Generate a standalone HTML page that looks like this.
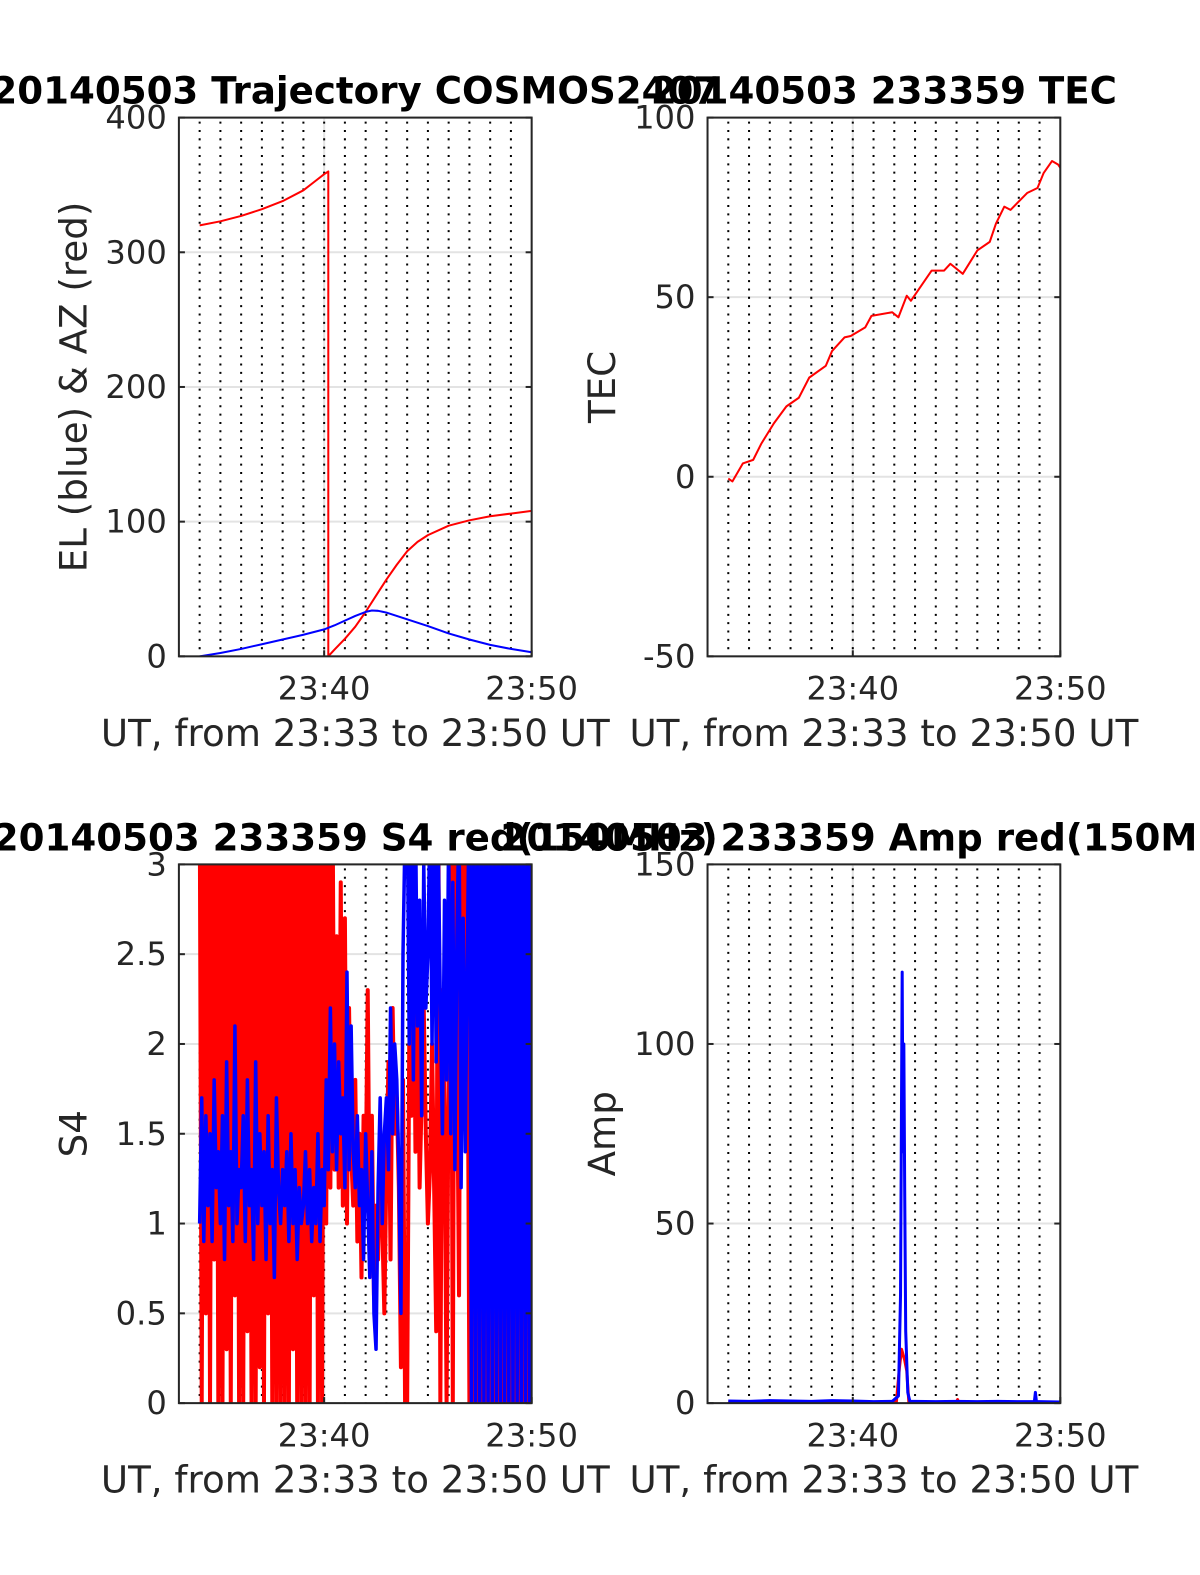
<!DOCTYPE html>
<html><head><meta charset="utf-8"><style>
html,body{margin:0;padding:0;background:#fff;overflow:hidden;width:1200px;height:1575px}
svg{display:block;font-family:"DejaVu Sans","Liberation Sans",sans-serif}
</style></head><body>
<svg id="fig" width="1200" height="1575" viewBox="0 0 1194 1567" preserveAspectRatio="none" xmlns="http://www.w3.org/2000/svg"></svg>
<script>
// ---- data ----
const azTime=[34.0,35,36,37,38,39,39.5,40.0,40.2,40.2,40.5,41,41.5,42,42.5,43,43.5,44,44.5,45,46,47,48,49,50];
const azVal=[320,323,327,332,338,346,352,358,360,0,5,13,22,33,45,57,68,78,85,90,97,101,104,106,108];
const elTime=[34,35,36,37,38,39,40,40.5,41,41.5,42,42.3,42.6,43,43.5,44,45,46,47,48,49,50];
const elVal=[0,2.5,5.5,9,12.5,16,20,23,26.5,30,33,34,33.8,32.5,30,27.5,22.5,17,12.5,8.5,5.5,3];
const tecTime=[34.0,34.2,34.7,35.2,35.6,36.2,36.8,37.4,37.9,38.7,39.0,39.6,39.9,40.6,40.9,41.9,42.2,42.6,42.8,43.3,43.8,44.4,44.7,45.3,46.0,46.6,46.9,47.3,47.6,48.4,48.9,49.2,49.6,49.9,50];
const tecVal=[-0.5,-1.3,3.7,4.7,9.3,14.9,19.6,22,27.6,30.9,35,38.8,39.2,41.6,44.8,45.8,44.4,50.4,49,53.2,57.4,57.4,59.3,56.5,63,65.4,70.5,75.2,74.3,79,80.4,84.6,87.9,86.9,86];
const s4Start=34.0, s4Step=0.1;
const s4Red=[3.5,0,3.5,0.5,3.5,0,3.5,0.8,3.5,0,
3.5,0,3.5,0.3,3.5,0,3.5,0.6,3.5,0,
3.5,0,3.5,0.4,3.5,0,3.5,0,3.5,0.2,
3.5,0,3.5,0.5,3.5,0,3.5,0,3.5,0,
3.5,0,3.5,0,3.5,0.3,3.5,0,3.5,0,
3.5,0,3.5,0,3.5,0.6,3.5,0,3.5,0,
3.5,1.0,3.5,1.2,3.5,1.3,2.6,1.2,2.9,1.1,
2.7,1.0,2.2,1.4,1.1,1.8,0.9,1.5,0.7,1.6,
1.2,2.3,0.9,1.6,0.6,1.1,0.8,1.4,1.0,0.5,
1.3,1.9,0.8,2.2,1.5,1.7,1.2,0.2,1.8,0,
0,2.0,1.6,2.8,1.4,2.5,1.2,1.7,2.2,1.5,
1.0,1.3,2.0,1.2,0.4,3.5,0,2.3,1.6,0,
1.9,3.5,0,3.5,2.0,0.6,3.5,1.7,3.5,2.6,
0,3.5,0,3.5,0,3.5,0,3.5,0,3.5,
0,3.5,0,3.5,0,3.5,0,3.5,0,3.5,
0,3.5,0,3.5,0,3.5,0,3.5,0,3.5,0];
const s4Blue=[1.0,1.7,0.9,1.6,1.1,1.5,0.9,1.8,1.2,1.4,
1.0,1.6,0.8,1.9,1.1,1.4,0.9,2.1,1.0,1.3,
1.2,1.6,0.9,1.8,1.1,1.3,0.8,1.9,1.0,1.5,
1.1,1.4,0.8,1.6,1.0,1.3,0.7,1.7,1.2,1.0,
1.3,1.1,1.4,0.9,1.5,1.0,1.3,0.8,1.2,1.0,
1.1,1.4,1.0,1.3,0.9,1.2,1.0,1.5,0.9,1.3,
1.1,1.8,1.3,2.2,1.4,2.0,1.3,1.9,1.5,1.7,
1.2,2.4,1.3,2.1,1.4,1.2,1.6,1.1,1.3,0.8,
1.5,1.1,0.7,1.4,0.5,0.3,1.2,1.7,1.0,1.5,
1.7,1.3,2.2,1.5,2.0,1.8,1.3,0.5,2.5,3.2,
3.4,2.0,3.2,1.8,3.3,2.1,2.8,1.6,3.0,2.2,
2.5,3.3,2.0,3.3,1.9,3.1,2.2,1.5,2.8,1.8,
3.2,1.5,2.9,1.3,2.6,3.3,1.2,2.7,1.4,2.5,
3.5,0,3.5,0,3.5,0,3.5,0,3.5,0,
3.5,0,3.5,0,3.5,0,3.5,0,3.5,0,
3.5,0,3.5,0,3.5,0,3.5,0,3.5,0,3.5];
const ampBlueTime=[34,35,36,37,38,39,40,41,41.9,42.2,42.3,42.38,42.42,42.46,42.5,42.55,42.65,42.75,43,44,45,46,47,48,48.75,48.8,48.85,49,50];
const ampBlueVal=[0.6,0.5,0.7,0.6,0.5,0.7,0.6,0.4,0.5,2,30,120,70,100,60,20,3,0.5,0.5,0.4,0.5,0.4,0.5,0.4,0.4,3,0.4,0.4,0.3];
const ampRedTime=[34,42.1,42.25,42.35,42.5,42.6,42.7,45,45.05,45.1,50];
const ampRedVal=[0.3,0.3,10,15,12,9,0.3,0.3,1,0.3,0.3];
const xTicks=[40,50], xTickLabels=["23:40","23:50"];

// ---- helpers ----
const NS="http://www.w3.org/2000/svg";
const fig=document.getElementById('fig');
function mk(tag,attrs,parent){const e=document.createElementNS(NS,tag);for(const k in attrs)e.setAttribute(k,attrs[k]);(parent||fig).appendChild(e);return e;}
function txt(s,attrs,parent){const e=mk('text',attrs,parent);e.textContent=s;return e;}

function panel(id,L,T,W,H,ymin,ymax,yTicks,yTickLabels,title,ylabel){
  const g=mk('g',{});
  
  
  const xs=t=>L+(t-33)/(50-33)*W;
  const ys=v=>T+H-(v-ymin)/(ymax-ymin)*H;
  yTicks.forEach(v=>{const l=mk('line',{x1:L,x2:L+W,y1:ys(v),y2:ys(v),stroke:'#e3e3e3','stroke-width':2},g);
    });
  xTicks.forEach(t=>{const l=mk('line',{x1:xs(t),x2:xs(t),y1:T,y2:T+H,stroke:'#e3e3e3','stroke-width':2},g);
    });
  for(let m=34;m<=49;m++){const l=mk('line',{x1:xs(m),x2:xs(m),y1:T+4,y2:T+H,stroke:'#000','stroke-width':2,'stroke-dasharray':'2 6.3'},g);
    }
  const cp=mk('clipPath',{id:'clip-'+id},g);mk('rect',{x:L,y:T,width:W,height:H},cp);
  const plot=mk('g',{'clip-path':'url(#clip-'+id+')'},g);
  yTicks.forEach((v,i)=>{const t=txt(yTickLabels[i],{x:L-12,y:ys(v)+11,'text-anchor':'end','font-size':32,fill:'#262626'},g);
    
    mk('line',{x1:L,x2:L+6,y1:ys(v),y2:ys(v),stroke:'#262626','stroke-width':2},g);
    mk('line',{x1:L+W-6,x2:L+W,y1:ys(v),y2:ys(v),stroke:'#262626','stroke-width':2},g);});
  xTicks.forEach((t,i)=>{const e=txt(xTickLabels[i],{x:xs(t),y:T+H+43,'text-anchor':'middle','font-size':32,fill:'#262626'},g);
    
    mk('line',{x1:xs(t),x2:xs(t),y1:T+H,y2:T+H-6,stroke:'#262626','stroke-width':2},g);});
  const xl=txt('UT, from 23:33 to 23:50 UT',{x:L+W/2,y:T+H+89,'text-anchor':'middle','font-size':37,fill:'#262626'},g);
  
  const yl=txt(ylabel,{x:0,y:0,'text-anchor':'middle','font-size':37,fill:'#262626',transform:`translate(${L-92},${T+H/2}) rotate(-90)`},g);
  
  const ti=txt(title,{x:L+W/2,y:T-14,'text-anchor':'middle','font-size':37,'font-weight':'bold',fill:'#000'},fig);
  
  return {g,plot,xs,ys,L,T,W,H};
}
function line(p,ts,vs,color,w,name){
  const d=ts.map((t,i)=>(i?'L':'M')+p.xs(t).toFixed(2)+','+p.ys(vs[i]).toFixed(2)).join('');
  const e=mk('path',{d,fill:'none',stroke:color,'stroke-width':w,'stroke-linejoin':'round'},p.plot);
  
}
function frame(p){const r=mk('rect',{x:p.L,y:p.T,width:p.W,height:p.H,fill:'none',stroke:'#262626','stroke-width':2},p.g);
  }

const p1=panel('trajectory',178,117,351,536,0,400,[0,100,200,300,400],['0','100','200','300','400'],'20140503 Trajectory COSMOS2407','EL (blue) & AZ (red)');
line(p1,azTime,azVal,'#ff0000',2,'azimuth-line');
line(p1,elTime,elVal,'#0000ff',2,'elevation-line');
frame(p1);

const p2=panel('tec',704,117,351,536,-50,100,[-50,0,50,100],['-50','0','50','100'],'20140503 233359 TEC','TEC');
line(p2,tecTime,tecVal,'#ff0000',2,'tec-line');
frame(p2);

const p3=panel('s4',178,860,351,536,0,3,[0,0.5,1,1.5,2,2.5,3],['0','0.5','1','1.5','2','2.5','3'],'20140503 233359 S4 red(150MHz)','S4');
const s4T=s4Red.map((v,i)=>s4Start+i*s4Step);
line(p3,s4T,s4Red,'#ff0000',4,'s4-red-line');
const s4TB=s4Blue.map((v,i)=>s4Start+i*s4Step);
line(p3,s4TB,s4Blue,'#0000ff',3.5,'s4-blue-line');
frame(p3);

const p4=panel('amp',704,860,351,536,0,150,[0,50,100,150],['0','50','100','150'],'20140503 233359 Amp red(150MHz)','Amp');
line(p4,ampRedTime,ampRedVal,'#ff0000',3,'amp-red-line');
line(p4,ampBlueTime,ampBlueVal,'#0000ff',3,'amp-blue-line');
frame(p4);
</script>
</body></html>
